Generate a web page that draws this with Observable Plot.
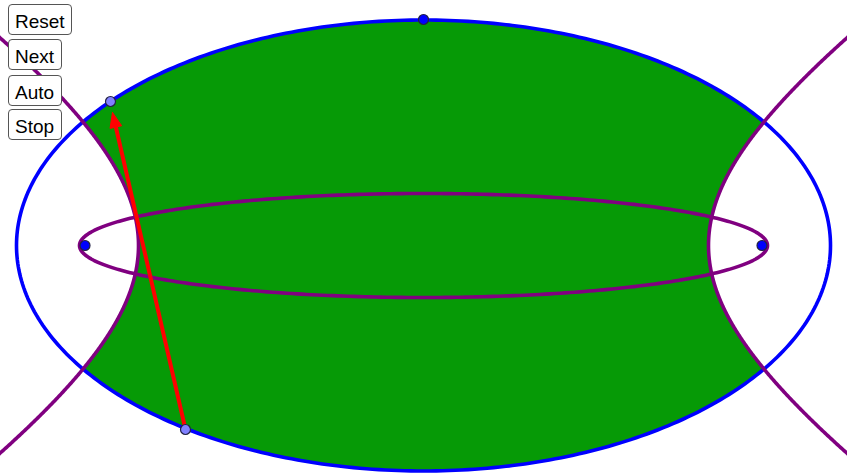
<!DOCTYPE html>
<html>
<head>
<meta charset="utf-8">
<script src="https://cdn.jsdelivr.net/npm/d3@7"></script>
<script src="https://cdn.jsdelivr.net/npm/@observablehq/plot@0.6"></script>
<style>
  html, body { margin: 0; padding: 0; background: #fff; }
  #wrap { position: relative; width: 847px; height: 474px; overflow: hidden; }
  #wrap svg { position: absolute; left: 0; top: 0; }
  .btn {
    position: absolute; left: 8px; height: 31px; box-sizing: border-box;
    border: 1px solid #555; border-radius: 4px; background: #fff;
    font: 19px "Liberation Sans", Arial, sans-serif; color: #000;
    padding: 0 6px; line-height: 33px; text-align: left;
  }
</style>
</head>
<body>
<div id="wrap"></div>
<script>
// ---- data (units: 1 = 50 px on screen) ----
const conicNames = ["outer ellipse", "inner ellipse", "hyperbola"];
const semiA = [8.14, 6.88, 5.70];
const semiB = [4.51, 1.04, 3.78];
const conicColors = ["#0000ff", "#800080", "#800080"];

const pointNames = ["F1", "F2", "Top", "P", "Q"];
const pointX = [-6.77, 6.77, 0.0, -6.26, -4.76];
const pointY = [0.0, 0.0, 4.52, 2.88, -3.68];
const pointFill = ["#0000ff", "#0000ff", "#0000ff", "#8080ff", "#8080ff"];

const arrowFrom = [-4.76, -3.68];
const arrowTo = [-6.22, 2.66];

const buttonLabels = ["Reset", "Next", "Auto", "Stop"];
const buttonTops = [4, 39, 75, 109];
const buttonWidths = [64, 54, 54, 54];

const xDomain = [-8.46, 8.48];
const yDomain = [-4.58, 4.90];

// ---- derived geometry ----
const [oa, ia, ha] = semiA;
const [ob, ib, hb] = semiB;
const N = 400;
const ellipse = (a, b) => d3.range(N + 1).map(i => {
  const t = (i / N) * 2 * Math.PI;
  return {x: a * Math.cos(t), y: b * Math.sin(t)};
});
const outerPts = ellipse(oa, ob);
const innerPts = ellipse(ia, ib);
const yMaxH = hb * Math.sqrt((xDomain[1] / ha) ** 2 - 1) + 0.2;
const hyperRight = d3.range(N + 1).map(i => {
  const y = -yMaxH + (2 * yMaxH * i) / N;
  return {x: ha * Math.sqrt(1 + (y * y) / (hb * hb)), y};
});
const hyperLeft = hyperRight.map(d => ({x: -d.x, y: d.y}));

const fillRows = d3.range(N + 1).map(i => {
  const y = -ob + (2 * ob * i) / N;
  const ex = oa * Math.sqrt(Math.max(0, 1 - (y * y) / (ob * ob)));
  const hx = ha * Math.sqrt(1 + (y * y) / (hb * hb));
  const h = Math.min(ex, hx);
  return {y, x1: -h, x2: h};
});

// arrow head
const dx = arrowTo[0] - arrowFrom[0], dy = arrowTo[1] - arrowFrom[1];
const len = Math.hypot(dx, dy);
const ux = dx / len, uy = dy / len, nx = uy, ny = -ux;
const headLen = 0.30, headHalf = 0.12;
const base = [arrowTo[0] - ux * headLen, arrowTo[1] - uy * headLen];
const head = [
  {x: arrowTo[0], y: arrowTo[1]},
  {x: base[0] + nx * headHalf, y: base[1] + ny * headHalf},
  {x: base[0] - nx * headHalf, y: base[1] - ny * headHalf},
  {x: arrowTo[0], y: arrowTo[1]}
];
const shaft = [{x1: arrowFrom[0], y1: arrowFrom[1], x2: base[0] + ux * 0.08, y2: base[1] + uy * 0.08}];

const points = pointNames.map((n, i) => ({name: n, x: pointX[i], y: pointY[i], fill: pointFill[i]}));

const plot = Plot.plot({
  width: 847,
  height: 474,
  margin: 0,
  x: {domain: xDomain, axis: null},
  y: {domain: yDomain, axis: null},
  marks: [
    Plot.areaX(fillRows, {y: "y", x1: "x1", x2: "x2", fill: "#069a06", curve: "linear"}),
    Plot.line(outerPts, {x: "x", y: "y", stroke: conicColors[0], strokeWidth: 3.6}),
    Plot.line(hyperRight, {x: "x", y: "y", stroke: conicColors[2], strokeWidth: 3.6}),
    Plot.line(hyperLeft, {x: "x", y: "y", stroke: conicColors[2], strokeWidth: 3.6}),
    Plot.line(innerPts, {x: "x", y: "y", stroke: conicColors[1], strokeWidth: 3.6}),
    Plot.link(shaft, {x1: "x1", y1: "y1", x2: "x2", y2: "y2", stroke: "#ff0000", strokeWidth: 4}),
    Plot.line(head, {x: "x", y: "y", fill: "#ff0000", stroke: "#ff0000", strokeWidth: 1}),
    Plot.dot(points, {x: "x", y: "y", r: 5, fill: "fill", stroke: "#222244", strokeWidth: 1.2})
  ]
});
const wrap = document.getElementById("wrap");
wrap.appendChild(plot);
buttonLabels.forEach((lab, i) => {
  const b = document.createElement("div");
  b.className = "btn";
  b.textContent = lab;
  b.style.top = buttonTops[i] + "px";
  b.style.width = buttonWidths[i] + "px";
  wrap.appendChild(b);
});
</script>
</body>
</html>
